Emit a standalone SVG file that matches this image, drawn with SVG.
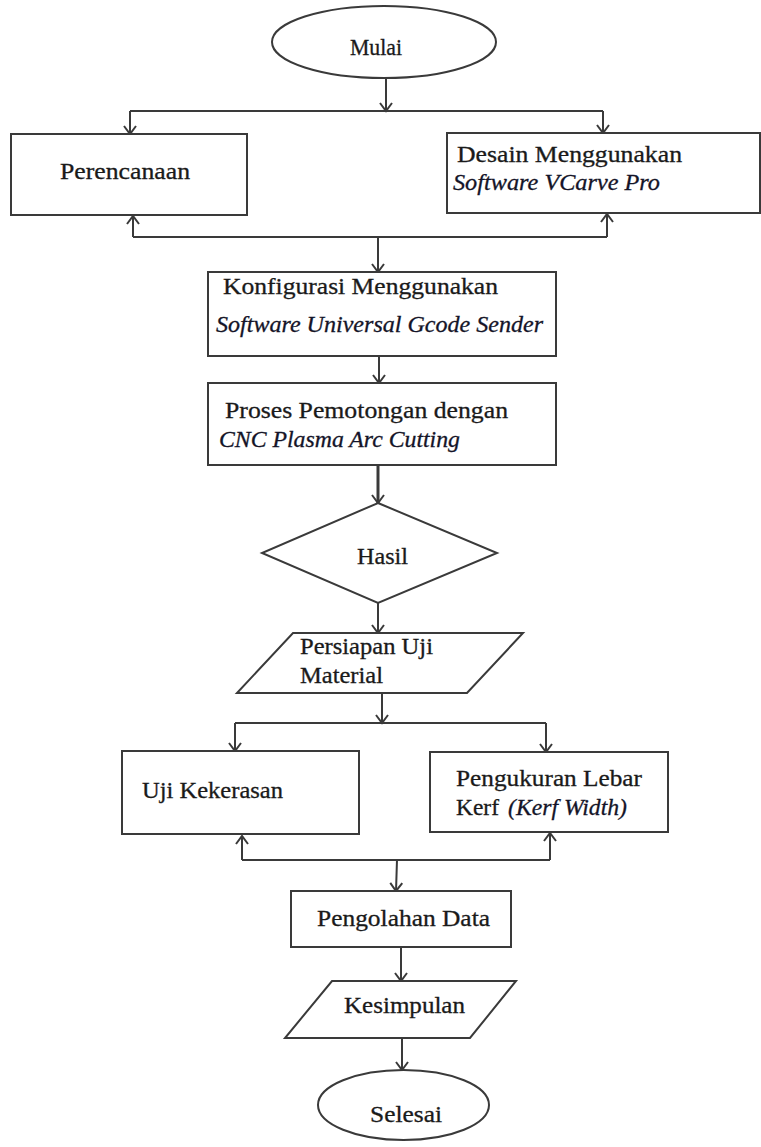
<svg xmlns="http://www.w3.org/2000/svg" width="761" height="1147" viewBox="0 0 761 1147">
<defs>
<style>
.shape{fill:#fff;stroke:#3a3a3a;stroke-width:2}
.t{font-family:"Liberation Serif","Times New Roman",serif;font-size:23px;fill:#1a1a1a;stroke:#1a1a1a;stroke-width:0.3}
.i{font-style:italic;fill:#141428;stroke:#141428}
.c{fill:none;stroke:#3a3a3a;stroke-width:2}
.a{marker-end:url(#arr)}
</style>
<marker id="arr" viewBox="-10 -8 12 16" refX="0" refY="0" markerWidth="12" markerHeight="16" markerUnits="userSpaceOnUse" orient="auto">
<path d="M-8,-6 L0,0 L-8,6" fill="none" stroke="#3a3a3a" stroke-width="2"/>
</marker>
</defs>
<rect width="761" height="1147" fill="#fff"/>
<g id="connectors">
<line class="c a" x1="386" y1="79" x2="386" y2="111"/>
<polyline class="c" points="130,111 603,111"/>
<line class="c a" x1="130" y1="111" x2="130" y2="134"/>
<line class="c a" x1="603" y1="111" x2="603" y2="133"/>
<polyline class="c" points="133,237 607,237"/>
<line class="c a" x1="133" y1="237" x2="133" y2="216"/>
<line class="c a" x1="607" y1="237" x2="607" y2="214"/>
<line class="c a" x1="378" y1="237" x2="378" y2="272"/>
<line class="c a" x1="379" y1="356" x2="379" y2="383"/>
<line class="c a" x1="378" y1="465" x2="378" y2="503" style="stroke-width:3"/>
<line class="c a" x1="378" y1="603" x2="378" y2="633"/>
<line class="c a" x1="382" y1="693" x2="382" y2="723"/>
<polyline class="c" points="235,723 546,723"/>
<line class="c a" x1="235" y1="723" x2="235" y2="751"/>
<line class="c a" x1="546" y1="723" x2="546" y2="752"/>
<polyline class="c" points="242,860 550,860"/>
<line class="c a" x1="242" y1="860" x2="242" y2="836"/>
<line class="c a" x1="550" y1="860" x2="550" y2="833"/>
<line class="c a" x1="397" y1="860" x2="396" y2="891"/>
<line class="c a" x1="401" y1="947" x2="401" y2="981"/>
<line class="c a" x1="402" y1="1038" x2="402" y2="1070"/>
</g>
<g id="mulai">
<ellipse class="shape" cx="384" cy="42" rx="112" ry="36"/>
<text class="t" x="350" y="55" textLength="52" lengthAdjust="spacingAndGlyphs">Mulai</text>
</g>
<g id="perencanaan">
<rect class="shape" x="11" y="134" width="236" height="81"/>
<text class="t" x="60" y="179" textLength="130" lengthAdjust="spacingAndGlyphs">Perencanaan</text>
</g>
<g id="desain">
<rect class="shape" x="447" y="133" width="313" height="80"/>
<text class="t" x="457" y="162" textLength="225" lengthAdjust="spacingAndGlyphs">Desain Menggunakan</text>
<text class="t i" x="453" y="190" textLength="207" lengthAdjust="spacingAndGlyphs">Software VCarve Pro</text>
</g>
<g id="konfigurasi">
<rect class="shape" x="208" y="272" width="348" height="84"/>
<text class="t" x="223" y="294" textLength="275" lengthAdjust="spacingAndGlyphs">Konfigurasi Menggunakan</text>
<text class="t i" x="216" y="332" textLength="327" lengthAdjust="spacingAndGlyphs">Software Universal Gcode Sender</text>
</g>
<g id="proses">
<rect class="shape" x="208" y="383" width="348" height="82"/>
<text class="t" x="225" y="418" textLength="283" lengthAdjust="spacingAndGlyphs">Proses Pemotongan dengan</text>
<text class="t i" x="219" y="447" textLength="241" lengthAdjust="spacingAndGlyphs">CNC Plasma Arc Cutting</text>
</g>
<g id="hasil">
<polygon class="shape" points="378,503 497,553 378,603 262,553"/>
<text class="t" x="357" y="564" textLength="51" lengthAdjust="spacingAndGlyphs">Hasil</text>
</g>
<g id="persiapan">
<polygon class="shape" points="293,633 523,633 467,693 237,693"/>
<text class="t" x="300" y="654" textLength="133" lengthAdjust="spacingAndGlyphs">Persiapan Uji</text>
<text class="t" x="300" y="683" textLength="83" lengthAdjust="spacingAndGlyphs">Material</text>
</g>
<g id="uji">
<rect class="shape" x="122" y="751" width="237" height="83"/>
<text class="t" x="142" y="798" textLength="141" lengthAdjust="spacingAndGlyphs">Uji Kekerasan</text>
</g>
<g id="kerf">
<rect class="shape" x="430" y="752" width="238" height="80"/>
<text class="t" x="456" y="786" textLength="186" lengthAdjust="spacingAndGlyphs">Pengukuran Lebar</text>
<text class="t" x="456" y="815" textLength="43" lengthAdjust="spacingAndGlyphs">Kerf</text>
<text class="t i" x="508" y="815" textLength="119" lengthAdjust="spacingAndGlyphs">(Kerf Width)</text>
</g>
<g id="pengolahan">
<rect class="shape" x="291" y="891" width="220" height="56"/>
<text class="t" x="317" y="926" textLength="173" lengthAdjust="spacingAndGlyphs">Pengolahan Data</text>
</g>
<g id="kesimpulan">
<polygon class="shape" points="332,981 516,981 470,1038 285,1038"/>
<text class="t" x="344" y="1013" textLength="121" lengthAdjust="spacingAndGlyphs">Kesimpulan</text>
</g>
<g id="selesai">
<ellipse class="shape" cx="403.5" cy="1105" rx="85.5" ry="35"/>
<text class="t" x="370" y="1122" textLength="72" lengthAdjust="spacingAndGlyphs">Selesai</text>
</g>
</svg>
